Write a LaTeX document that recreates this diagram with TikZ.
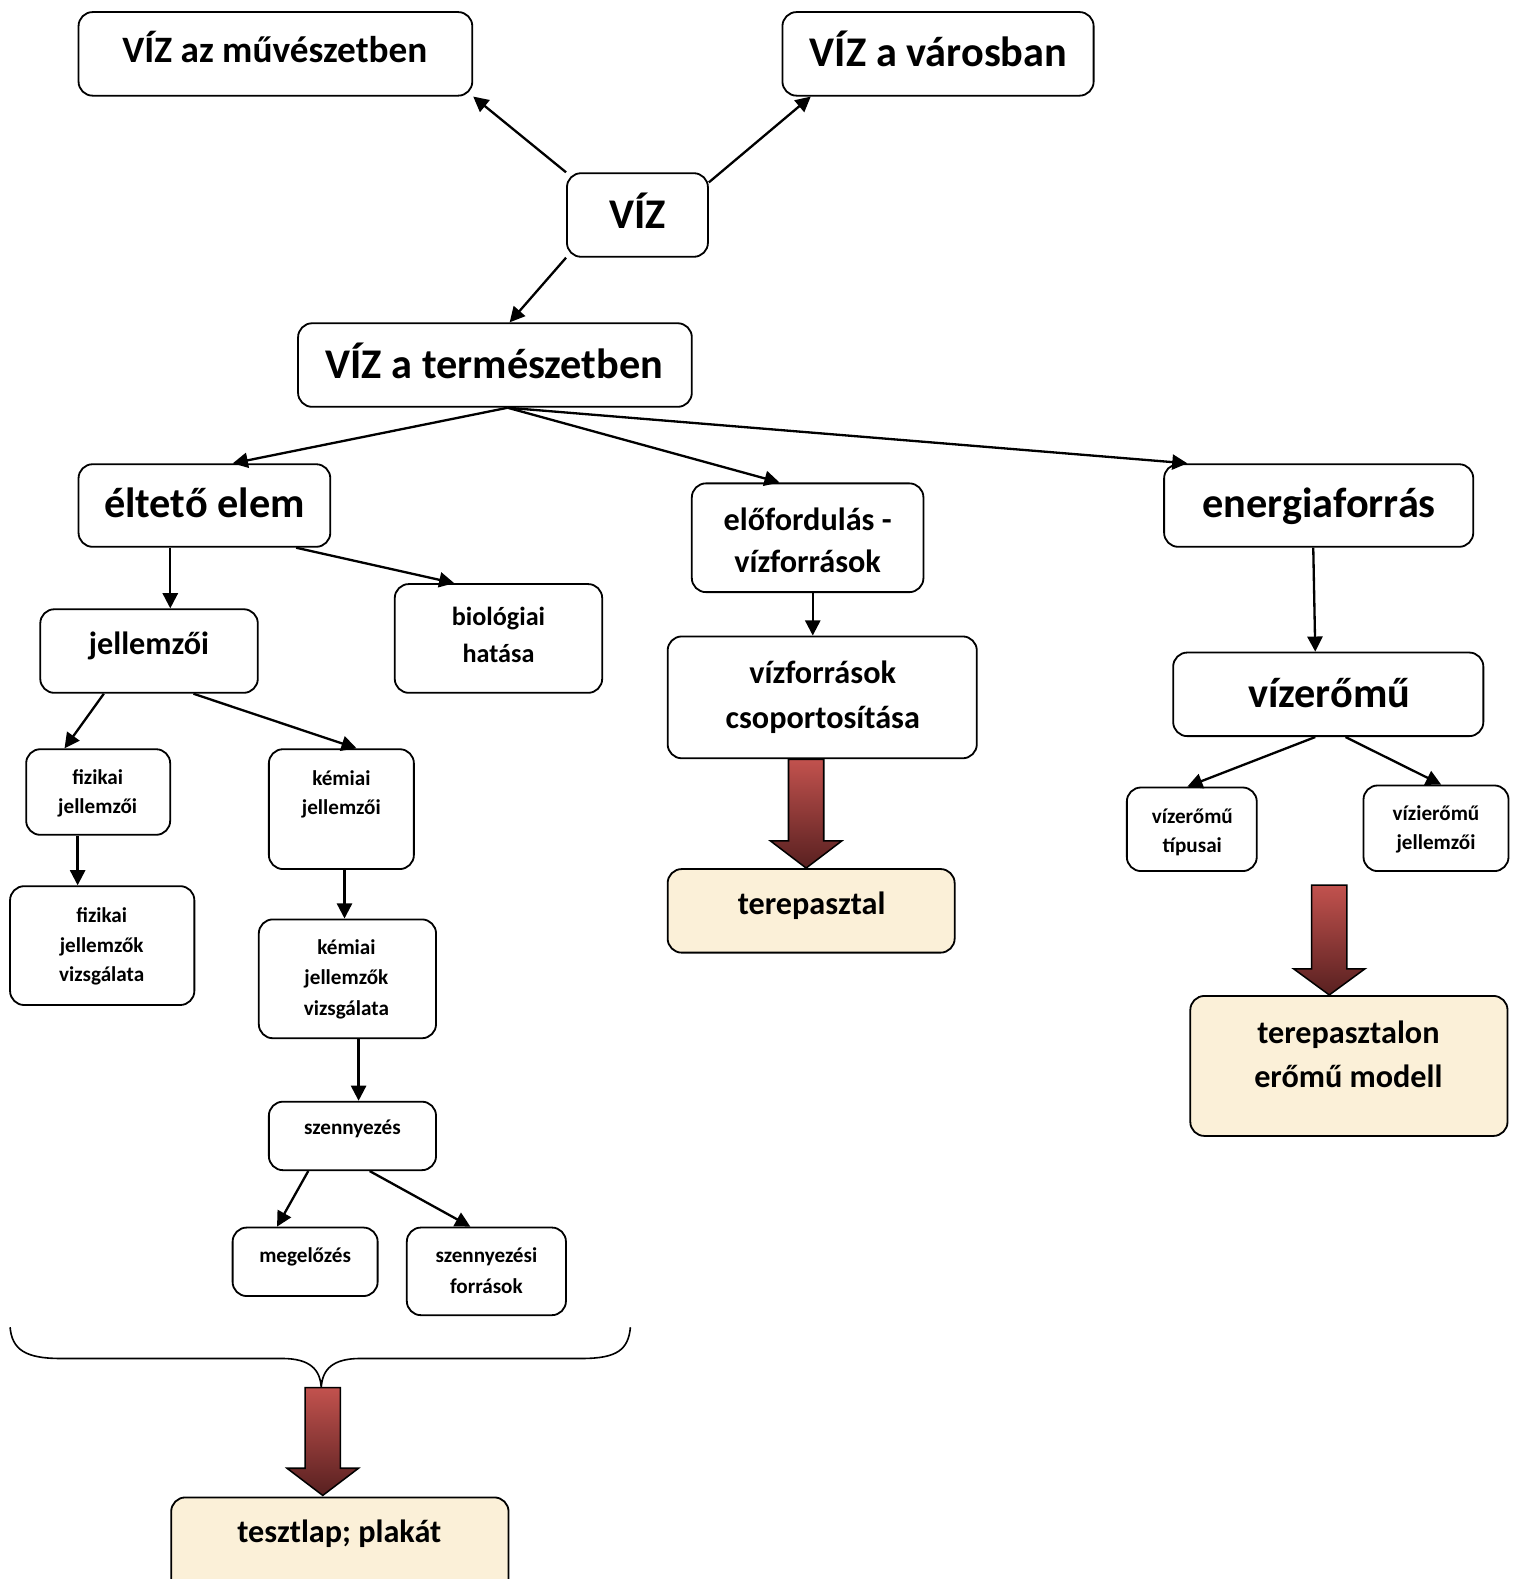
\documentclass[tikz,border=0pt]{standalone}
\usepackage{fontspec}
\setmainfont{Carlito}
\usetikzlibrary{arrows.meta,calc}
\definecolor{creamc}{RGB}{251,240,216}
\definecolor{arrtop}{RGB}{194,82,78}
\definecolor{arrbot}{RGB}{88,32,32}
\newcommand\boxnode[6]{%
  \node[#1, inner sep=0pt, minimum width={(#5)-(#3)}, minimum height={(#6)-(#4)}] (#2) at ({((#3)+(#5))/2},{((#4)+(#6))/2}) {};}
\newcommand\tl[5]{\node[anchor=base, inner sep=0pt, font=#1] (#2) at (#3,#4) {#5};}
\newcommand\bigarr[5]{% name cx ytop yneck ytip
  \filldraw[bigarrow] (#2-17.5,#3) coordinate (#1) -- (#2+17.5,#3) -- (#2+17.5,#4) -- (#2+35.5,#4) -- (#2,#5) -- (#2-35.5,#4) -- (#2-17.5,#4) -- cycle;}
\begin{document}
\begin{tikzpicture}[x=1pt,y=-1pt,
  box/.style={draw, line width=1.8pt, rounded corners=14pt, fill=white},
  cream/.style={box, fill=creamc},
  conn/.style={line width=2.3pt, -{Triangle[length=15pt,width=15pt]}},
  bigarrow/.style={draw=black, line width=1.5pt, top color=arrtop, bottom color=arrbot},
  ]
\def\fA{\fontsize{42}{50}\selectfont\bfseries}
\def\fB{\fontsize{37}{44}\selectfont\bfseries}
\def\fC{\fontsize{32}{40}\selectfont\bfseries}
\def\fD{\fontsize{26}{32}\selectfont\bfseries}
\def\fE{\fontsize{21}{26}\selectfont\bfseries}
\clip (0,0) rectangle (1511,1568);
\fill[white] (0,0) rectangle (1511,1568);

% boxes
\boxnode{box}{muv}{78}{12}{469}{95}
\boxnode{box}{var}{777}{12}{1086}{95}
\boxnode{box}{viz}{563}{172}{703}{255}
\boxnode{box}{term}{296}{321}{687}{404}
\boxnode{box}{elt}{78}{461}{328}{543}
\boxnode{box}{elo}{687}{480}{917}{588}
\boxnode{box}{ene}{1156}{461}{1463}{543}
\boxnode{box}{jel}{40}{605}{256}{688}
\boxnode{box}{bio}{392}{580}{598}{688}
\boxnode{box}{vzcs}{663}{632}{970}{753}
\boxnode{box}{vze}{1165}{648}{1473}{731}
\boxnode{box}{fiz}{26}{744}{169}{829}
\boxnode{box}{kem}{267}{744}{411}{863}
\boxnode{box}{tip}{1119}{782}{1248}{865}
\boxnode{box}{vij}{1354}{780}{1498}{865}
\boxnode{box}{fizv}{10}{880}{193}{998}
\boxnode{box}{kemv}{257}{913}{433}{1031}
\boxnode{box}{szen}{267}{1094}{433}{1162}
\boxnode{box}{meg}{231}{1219}{375}{1287}
\boxnode{box}{szf}{404}{1219}{562}{1306}
\boxnode{cream}{ter}{663}{863}{948}{946}
\boxnode{cream}{tero}{1182}{989}{1497}{1128}
\boxnode{cream}{tesz}{170}{1487}{505}{1600}

% texts
\tl{\fB}{muvt}{273}{62}{VÍZ az művészetben}
\tl{\fA}{vart}{932}{66}{VÍZ a városban}
\tl{\fA}{vizt}{633}{227}{VÍZ}
\tl{\fA}{termt}{491}{376}{VÍZ a természetben}
\tl{\fA}{eltt}{203}{514}{éltető elem}
\tl{\fC}{elota}{802}{527}{előfordulás -}
\tl{\fC}{elotb}{802}{569}{vízforrások}
\tl{\fA}{enet}{1310}{514}{energiaforrás}
\tl{\fC}{jelt}{148}{650}{jellemzői}
\tl{\fD}{biota}{495}{621}{biológiai}
\tl{\fD}{biotb}{495}{658}{hatása}
\tl{\fC}{vzcta}{817}{679}{vízforrások}
\tl{\fC}{vzctb}{817}{723}{csoportosítása}
\tl{\fA}{vzet}{1320}{703}{vízerőmű}
\tl{\fE}{fizta}{97}{779}{fizikai}
\tl{\fE}{fiztb}{97}{808}{jellemzői}
\tl{\fE}{kemta}{339}{780}{kémiai}
\tl{\fE}{kemtb}{339}{809}{jellemzői}
\tl{\fE}{tipta}{1184}{818}{vízerőmű}
\tl{\fE}{tiptb}{1184}{847}{típusai}
\tl{\fE}{vijta}{1426}{815}{vízierőmű}
\tl{\fE}{vijtb}{1426}{844}{jellemzői}
\tl{\fE}{fizvta}{101}{916}{fizikai}
\tl{\fE}{fizvtb}{101}{946}{jellemzők}
\tl{\fE}{fizvtc}{101}{975}{vizsgálata}
\tl{\fE}{kemvta}{344}{948}{kémiai}
\tl{\fE}{kemvtb}{344}{978}{jellemzők}
\tl{\fE}{kemvtc}{344}{1008}{vizsgálata}
\tl{\fE}{szent}{350}{1127}{szennyezés}
\tl{\fE}{megt}{303}{1254}{megelőzés}
\tl{\fE}{szfta}{483}{1254}{szennyezési}
\tl{\fE}{szftb}{483}{1284}{források}
\tl{\fC}{tert}{806}{908}{terepasztal}
\tl{\fC}{terota}{1339}{1036}{terepasztalon}
\tl{\fC}{terotb}{1339}{1080}{erőmű modell}
\tl{\fC}{teszt}{337}{1532}{tesztlap; plakát}

% connectors
\draw[conn] (viz.north west) -- (muv.south east);
\draw[conn] ([yshift=-10pt]viz.north east) -- ([xshift=29pt]var.south west);
\draw[conn] (viz.south west) -- ([xshift=211pt]term.north west);
\coordinate (ts) at ([xshift=209pt]term.south west);
\draw[conn] (ts) -- ([xshift=154pt]elt.north west);
\draw[conn] (ts) -- ([xshift=88pt]elo.north west);
\draw[conn] (ts) -- ([xshift=24pt]ene.north west);
\draw[conn] ([xshift=92pt]elt.south west) -- ([xshift=130pt]jel.north west);
\draw[conn] ([xshift=217pt]elt.south west) -- ([xshift=60pt]bio.north west);
\draw[conn] ([xshift=121pt]elo.south west) -- ([xshift=145pt]vzcs.north west);
\draw[conn] ([xshift=149pt]ene.south west) -- ([xshift=142pt]vze.north west);
\draw[conn] ([xshift=64pt]jel.south west) -- ([xshift=39pt]fiz.north west);
\draw[conn] ([xshift=153pt]jel.south west) -- ([xshift=88pt]kem.north west);
\draw[conn] ([xshift=52pt]fiz.south west) -- ([xshift=68pt]fizv.north west);
\draw[conn] ([xshift=76pt]kem.south west) -- ([xshift=86pt]kemv.north west);
\draw[conn] ([xshift=100pt]kemv.south west) -- ([xshift=90pt]szen.north west);
\draw[conn] ([xshift=40pt]szen.south west) -- ([xshift=45pt]meg.north west);
\draw[conn] ([xshift=101pt]szen.south west) -- ([xshift=64pt]szf.north west);
\draw[conn] ([xshift=142pt]vze.south west) -- ([xshift=61pt]tip.north west);
\draw[conn] ([xshift=172pt]vze.south west) -- ([xshift=78pt]vij.north west);

% brace
\draw[line width=1.6pt] (10,1318) .. controls (12,1340) and (25,1349) .. (60,1349) -- (280,1349)
  .. controls (308,1349) and (318,1360) .. (319,1378)
  .. controls (320,1360) and (330,1349) .. (358,1349) -- (578,1349)
  .. controls (613,1349) and (624,1340) .. (626,1318);

% big arrows
\bigarr{ba}{800.5}{754}{835}{862}
\bigarr{bb}{1320}{879}{962}{988}
\bigarr{bc}{320.5}{1378}{1458}{1485}
\end{tikzpicture}
\end{document}
